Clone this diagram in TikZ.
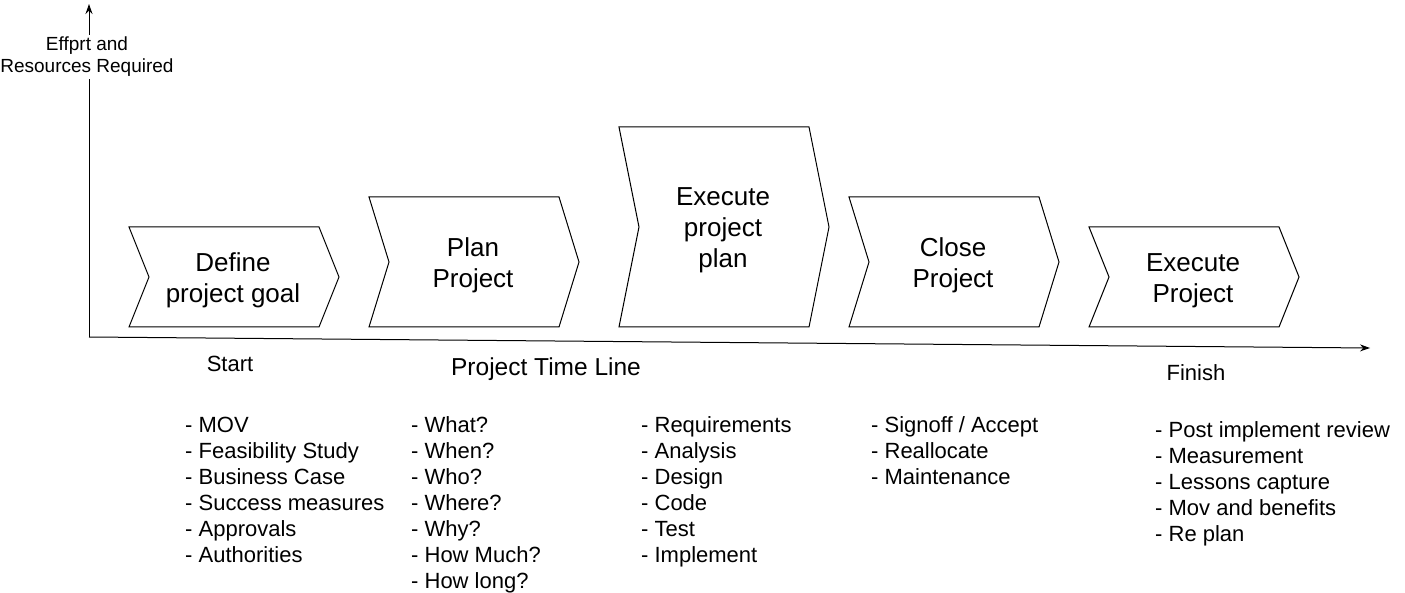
\documentclass[tikz,border=0pt]{standalone}
\usepackage{fontspec}
\setmainfont{Liberation Sans}
\usetikzlibrary{arrows.meta}
\tikzset{
    chevron/.style={draw=black,line width=1pt,fill=white},
    phasetext/.style={align=center,font=\fontsize{26}{31}\selectfont},
    itemlist/.style={anchor=north west,align=left,inner sep=0pt,font=\fontsize{22}{26}\selectfont},
    axislabel/.style={align=center,fill=white,inner sep=2pt,font=\fontsize{19}{22}\selectfont},
    marktext/.style={anchor=base,inner sep=0pt,font=\fontsize{22}{26}\selectfont},
    axisline/.style={line width=1pt,-{Stealth[length=10pt,width=7pt]}}
}
\begin{document}
\begin{tikzpicture}[x=1pt,y=-1pt]
            \useasboundingbox (0,0) rectangle (1405,593);
            % axes
            \coordinate (origin) at (89,337);
            \coordinate (yend) at (89,4);
            \coordinate (xend) at (1370,348);
            \draw[axisline] (origin) -- (yend);
            \draw[axisline] (origin) -- (xend);
            \node[axislabel] (effort) at (87,57) {Effprt and\\Resources Required};
            % phases
            \foreach \name/\x/\h/\txt in {goal/129/100/{Define\\project goal},plan/369/130/{Plan\\Project},execplan/619/200/{Execute\\project\\plan},close/849/130/{Close\\Project},execproj/1089/100/{Execute\\Project}}
            {
                \draw[chevron] (\x,327) -- (\x+190,327) -- (\x+210,327-\h/2) -- (\x+190,327-\h) -- (\x,327-\h) -- (\x+20,327-\h/2) -- cycle;
                \node[phasetext] (\name) at (\x+104,330.5-\h/2) {\txt};
            }
            % time line labels
            \node[marktext] (start) at (230,371) {Start};
            \node[marktext,font=\fontsize{24.5}{28}\selectfont] (timeline) at (546,375) {Project Time Line};
            \node[marktext] (finish) at (1196,381) {Finish};
            % lists
            \node[itemlist] (goallist) at (185,416.5) {- MOV\\- Feasibility Study\\- Business Case\\- Success measures\\- Approvals\\- Authorities};
            \node[itemlist] (planlist) at (411,416.5) {- What?\\- When?\\- Who?\\- Where?\\- Why?\\- How Much?\\- How long?};
            \node[itemlist] (execlist) at (641,416.5) {- Requirements\\- Analysis\\- Design\\- Code\\- Test\\- Implement};
            \node[itemlist] (closelist) at (871,416.5) {- Signoff / Accept\\- Reallocate\\- Maintenance};
            \node[itemlist] (finishlist) at (1155,421) {- Post implement review\\- Measurement\\- Lessons capture\\- Mov and benefits\\- Re plan};
        \end{tikzpicture}
\end{document}
